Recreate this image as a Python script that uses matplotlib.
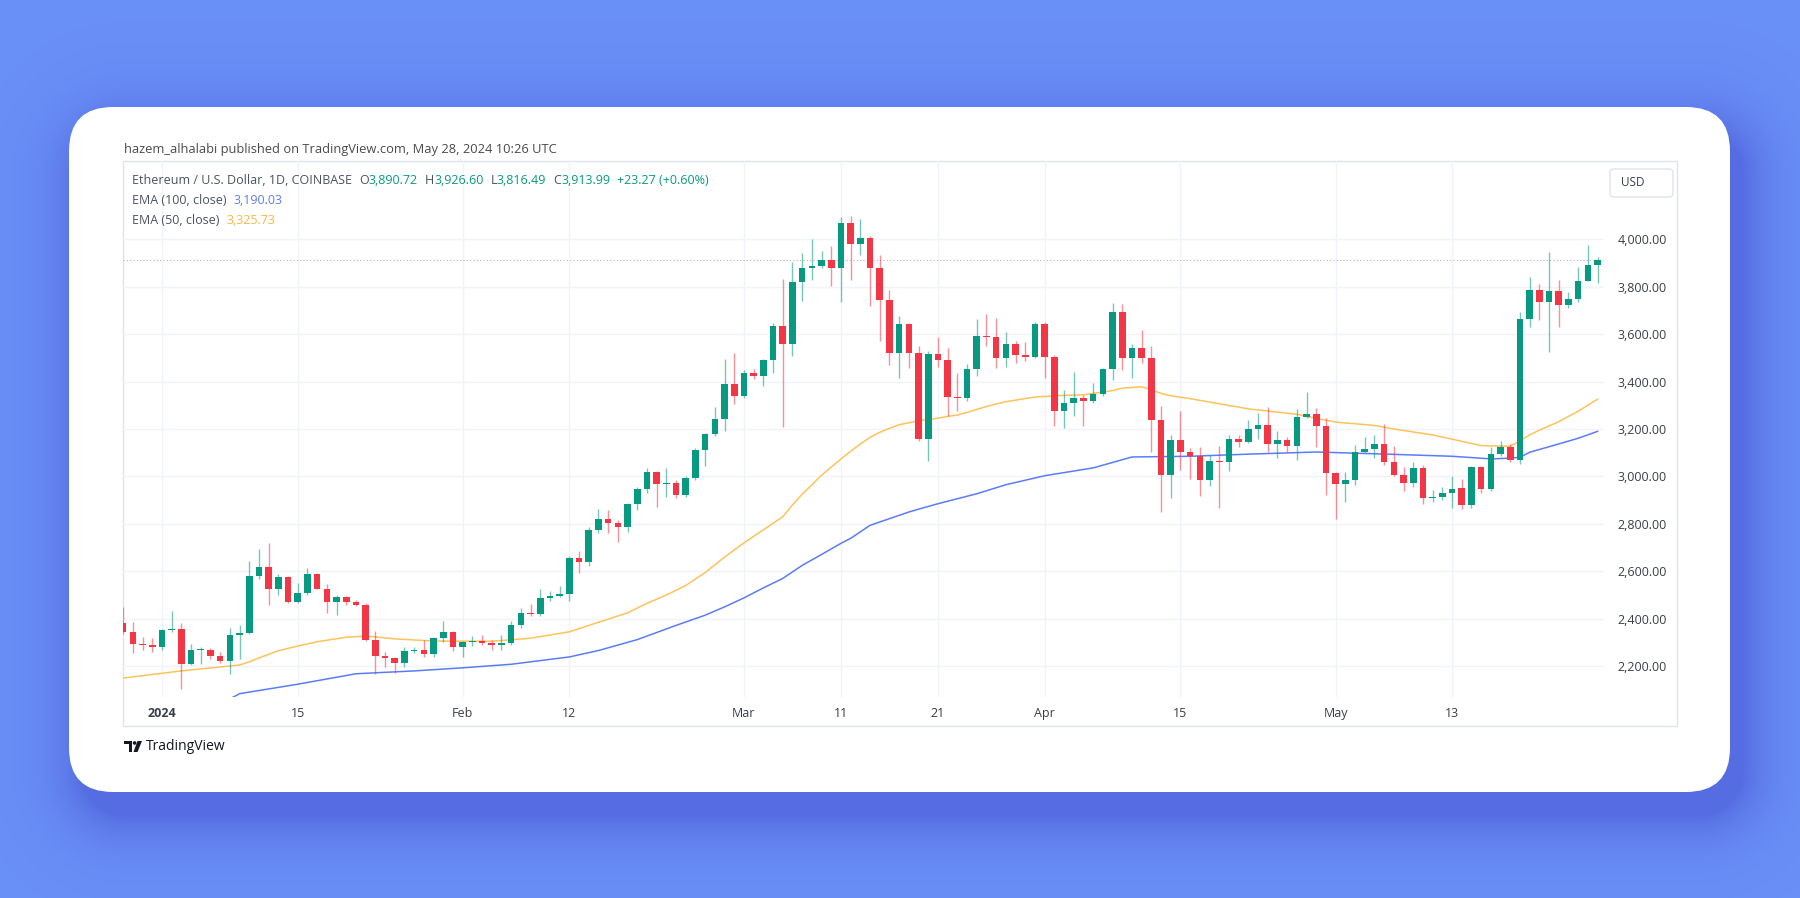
import numpy as np
import pandas as pd
import matplotlib
matplotlib.use("Agg")
import matplotlib.pyplot as plt
import matplotlib.dates as mdates
from matplotlib.patches import FancyBboxPatch, Rectangle, Circle, Polygon

W, H = 1800, 898

# ETH / USD daily candles (COINBASE), 28 Dec 2023 -> 28 May 2024
dates = pd.date_range("2023-12-28", "2024-05-28", freq="D")

opens = [2380, 2344, 2295, 2290,
         # Jan
         2280, 2352, 2358, 2208, 2267, 2270, 2241, 2222, 2330, 2341, 2582, 2618, 2524, 2578, 2470, 2509,
         2587, 2526, 2470, 2491, 2470, 2456, 2309, 2241, 2234, 2215, 2262, 2268, 2253, 2317, 2342,
         # Feb
         2280, 2302, 2306, 2298, 2290, 2298, 2372, 2423, 2418, 2486, 2497, 2504, 2658, 2641, 2775, 2822,
         2805, 2787, 2885, 2948, 3018, 2969, 2971, 2923, 2993, 3113, 3179, 3242, 3389,
         # Mar
         3340, 3438, 3424, 3490, 3634, 3557, 3820, 3878, 3889, 3913, 3878, 4067, 3979, 4007, 3878, 3743,
         3519, 3641, 3519, 3158, 3517, 3491, 3337, 3329, 3455, 3592, 3588, 3501, 3559, 3510, 3504,
         # Apr
         3643, 3503, 3278, 3309, 3330, 3318, 3349, 3452, 3692, 3501, 3543, 3501, 3236, 3008, 3155, 3103,
         3085, 2985, 3066, 3059, 3157, 3145, 3199, 3218, 3138, 3154, 3129, 3252, 3262, 3213,
         # May
         3014, 2968, 2985, 3103, 3117, 3136, 3062, 3007, 2973, 3035, 2910, 2913, 2930, 2951, 2881, 3038,
         2948, 3095, 3123, 3070, 3662, 3787, 3734, 3783, 3724, 3750, 3825, 3890.72]
highs = [2449, 2386, 2323, 2320,
         2355, 2432, 2383, 2295, 2280, 2275, 2260, 2362, 2372, 2643, 2692, 2720, 2590, 2582, 2550, 2615,
         2592, 2547, 2498, 2495, 2481, 2465, 2348, 2260, 2238, 2281, 2281, 2309, 2321, 2390, 2350,
         2307, 2327, 2330, 2310, 2332, 2390, 2446, 2462, 2525, 2518, 2536, 2665, 2686, 2785, 2864, 2858,
         2815, 2890, 2955, 3035, 3022, 3035, 2985, 3000, 3120, 3185, 3291, 3494, 3522,
         3450, 3455, 3495, 3645, 3834, 3906, 3941, 4000, 3950, 3973, 4092, 4098, 4085, 4012, 3934, 3785,
         3676, 3645, 3550, 3530, 3589, 3543, 3438, 3473, 3664, 3683, 3669, 3611, 3571, 3566, 3650,
         3650, 3510, 3365, 3442, 3344, 3393, 3456, 3730, 3726, 3560, 3618, 3550, 3299, 3176, 3278, 3120,
         3122, 3090, 3129, 3173, 3175, 3238, 3266, 3294, 3192, 3168, 3283, 3355, 3287, 3248,
         3020, 3017, 3131, 3168, 3173, 3220, 3130, 3039, 3060, 3050, 2944, 2955, 3000, 2990, 3046, 3046,
         3123, 3148, 3137, 3692, 3841, 3813, 3948, 3829, 3776, 3883, 3976, 3926.60]
lows = [2335, 2257, 2270, 2260,
        2268, 2342, 2102, 2203, 2208, 2232, 2215, 2168, 2229, 2335, 2568, 2459, 2498, 2468, 2466, 2501,
        2524, 2425, 2414, 2456, 2452, 2305, 2168, 2197, 2173, 2197, 2255, 2239, 2239, 2300, 2265,
        2239, 2285, 2290, 2267, 2270, 2290, 2360, 2410, 2410, 2475, 2490, 2476, 2592, 2623, 2760, 2760,
        2723, 2765, 2860, 2930, 2871, 2913, 2910, 2915, 2985, 3046, 3170, 3190, 3305,
        3330, 3410, 3380, 3435, 3207, 3508, 3738, 3830, 3880, 3801, 3734, 3830, 3934, 3717, 3571, 3470,
        3414, 3459, 3150, 3063, 3460, 3256, 3277, 3320, 3424, 3550, 3459, 3461, 3477, 3485, 3498,
        3414, 3211, 3204, 3253, 3211, 3310, 3340, 3407, 3449, 3414, 3477, 3102, 2851, 2909, 3026, 2991,
        2917, 2958, 2867, 3024, 3122, 3140, 3157, 3104, 3076, 3104, 3069, 3248, 3122, 2922,
        2821, 2894, 2964, 3098, 3078, 3049, 3000, 2937, 2955, 2885, 2892, 2900, 2868, 2862, 2867, 2930,
        2940, 3088, 3060, 3053, 3629, 3659, 3524, 3631, 3710, 3736, 3822, 3816.49]
closes = [2344, 2295, 2290, 2280,
          2352, 2358, 2208, 2267, 2270, 2241, 2222, 2330, 2341, 2582, 2618, 2524, 2578, 2470, 2509, 2587,
          2526, 2470, 2491, 2470, 2456, 2309, 2241, 2234, 2215, 2262, 2268, 2253, 2317, 2342, 2280,
          2302, 2306, 2298, 2288, 2298, 2372, 2423, 2418, 2486, 2497, 2504, 2658, 2641, 2775, 2822, 2805,
          2787, 2885, 2948, 3018, 2969, 2971, 2923, 2993, 3113, 3179, 3242, 3389, 3340,
          3438, 3424, 3490, 3634, 3557, 3820, 3878, 3889, 3913, 3878, 4067, 3979, 4007, 3878, 3743, 3519,
          3641, 3519, 3158, 3517, 3491, 3337, 3329, 3455, 3592, 3588, 3501, 3559, 3510, 3504, 3643,
          3503, 3278, 3309, 3330, 3318, 3349, 3452, 3692, 3501, 3543, 3501, 3236, 3008, 3155, 3103, 3085,
          2985, 3066, 3059, 3157, 3145, 3199, 3218, 3138, 3154, 3129, 3252, 3262, 3213, 3014,
          2968, 2985, 3103, 3117, 3136, 3062, 3007, 2973, 3035, 2910, 2913, 2930, 2948, 2881, 3038, 2948,
          3095, 3123, 3070, 3662, 3787, 3734, 3783, 3724, 3750, 3825, 3890.72, 3913.99]

# EMA lines
ema50_dates = ["2023-12-28", "2024-01-03", "2024-01-09", "2024-01-10", "2024-01-11", "2024-01-12",
               "2024-01-13", "2024-01-15", "2024-01-17", "2024-01-20", "2024-01-22", "2024-01-25",
               "2024-01-29", "2024-02-04", "2024-02-08", "2024-02-12", "2024-02-15", "2024-02-18",
               "2024-02-20", "2024-02-22", "2024-02-24", "2024-02-26", "2024-02-28", "2024-03-01",
               "2024-03-03", "2024-03-05", "2024-03-06", "2024-03-07", "2024-03-09", "2024-03-11",
               "2024-03-12", "2024-03-13", "2024-03-14", "2024-03-15", "2024-03-16", "2024-03-17",
               "2024-03-19", "2024-03-20", "2024-03-22", "2024-03-23", "2024-03-24", "2024-03-26",
               "2024-03-28", "2024-03-31", "2024-04-03", "2024-04-05", "2024-04-08", "2024-04-09",
               "2024-04-11", "2024-04-12", "2024-04-13", "2024-04-14", "2024-04-16", "2024-04-22",
               "2024-04-27", "2024-05-01", "2024-05-05", "2024-05-07", "2024-05-11", "2024-05-16",
               "2024-05-19", "2024-05-20", "2024-05-21", "2024-05-22", "2024-05-24", "2024-05-26",
               "2024-05-28"]
ema50_vals = [2150, 2180, 2205, 2218, 2235, 2250,
              2265, 2285, 2303, 2322, 2327, 2315,
              2306, 2305, 2318, 2345, 2385, 2425,
              2465, 2500, 2540, 2595, 2660, 2720,
              2775, 2830, 2880, 2925, 3005, 3074,
              3106, 3137, 3165, 3186, 3203, 3218,
              3235, 3239, 3253, 3259, 3270, 3295,
              3315, 3335, 3342, 3344, 3362, 3372,
              3378, 3365, 3350, 3340, 3328, 3285,
              3262, 3229, 3215, 3200, 3175, 3130,
              3127, 3150, 3175, 3195, 3231, 3275,
              3325.73]
ema100_dates = ["2024-01-08", "2024-01-09", "2024-01-15", "2024-01-21", "2024-01-27", "2024-02-01",
                "2024-02-06", "2024-02-12", "2024-02-15", "2024-02-19", "2024-02-23", "2024-02-26",
                "2024-02-28", "2024-03-01", "2024-03-03", "2024-03-05", "2024-03-07", "2024-03-09",
                "2024-03-11", "2024-03-12", "2024-03-14", "2024-03-16", "2024-03-18", "2024-03-19",
                "2024-03-21", "2024-03-23", "2024-03-25", "2024-03-28", "2024-04-01", "2024-04-06",
                "2024-04-10", "2024-04-16", "2024-04-22", "2024-04-29", "2024-05-03", "2024-05-07",
                "2024-05-13", "2024-05-17", "2024-05-19", "2024-05-20", "2024-05-21", "2024-05-24",
                "2024-05-26", "2024-05-28"]
ema100_vals = [2062, 2084, 2124, 2168, 2180, 2193,
               2208, 2239, 2266, 2312, 2372, 2415,
               2450, 2488, 2530, 2570, 2625, 2671,
               2718, 2739, 2794, 2822, 2850, 2862,
               2885, 2906, 2927, 2965, 3003, 3036,
               3082, 3085, 3094, 3103, 3098, 3093,
               3085, 3074, 3077, 3081, 3102, 3137,
               3161, 3190.03]

tick_dates = ["2024-01-01", "2024-01-15", "2024-02-01", "2024-02-12", "2024-03-01", "2024-03-11",
              "2024-03-21", "2024-04-01", "2024-04-15", "2024-05-01", "2024-05-13"]
tick_labels = ["2024", "15", "Feb", "12", "Mar", "11", "21", "Apr", "15", "May", "13"]
price_ticks = [2200, 2400, 2600, 2800, 3000, 3200, 3400, 3600, 3800, 4000]

UP = "#089981"
DOWN = "#f23645"
BLUE = "#5b7cf7"
ORANGE = "#fcc35a"
GRID = "#f0f3fa"
FONT = "Open Sans"

fig = plt.figure(figsize=(18, 8.98), dpi=100)

# background with soft shadow under the card
bg = fig.add_axes([0, 0, 1, 1], zorder=0)
bg.set_xlim(0, W)
bg.set_ylim(H, 0)
bg.axis("off")

card = (69, 107, 1730, 792, 44)


def rr_dist(xx, yy, x0, y0, x1, y1, r):
    cx, cy = (x0 + x1) / 2, (y0 + y1) / 2
    qx = np.abs(xx - cx) - ((x1 - x0) / 2 - r)
    qy = np.abs(yy - cy) - ((y1 - y0) / 2 - r)
    out = np.hypot(np.maximum(qx, 0), np.maximum(qy, 0))
    return out + np.minimum(np.maximum(qx, qy), 0) - r


yy, xx = np.mgrid[0:H, 0:W]
base = np.array([106, 145, 247]) / 255
shade = np.array([72, 84, 212]) / 255
d = rr_dist(xx, yy, card[0] + 12, card[1] + 22, card[2] + 12, card[3] + 22, card[4])
a = 0.6 * np.exp(-np.maximum(d, 0) / 30.0)
img = base * (1 - a[..., None]) + shade * a[..., None]
bg.imshow(img, extent=(0, W, H, 0), interpolation="bilinear", zorder=0)

bg.add_patch(FancyBboxPatch((card[0], card[1]), card[2] - card[0], card[3] - card[1],
                            boxstyle="round,pad=0,rounding_size=44", fc="white", ec="none", zorder=1))
# chart frame
bg.add_patch(Rectangle((123, 161), 1677 - 123, 726 - 161, fc="white", ec="#e0e3eb", lw=1, zorder=2))

# price chart
L, R, T, B = 123, 1604, 161, 697
ax = fig.add_axes([L / W, 1 - B / H, (R - L) / W, (B - T) / H], zorder=2)
ax.patch.set_alpha(0)

x = mdates.date2num(dates)
o, h, l, c = (np.array(v, dtype=float) for v in (opens, highs, lows, closes))
up = c >= o
cols = np.where(up, UP, DOWN)

ax.vlines(x, l, h, colors=cols, lw=1.0, alpha=0.55, zorder=3)
ax.bar(x, np.maximum(np.abs(c - o), 4), bottom=np.minimum(o, c), width=0.68,
       color=cols, lw=0, zorder=4)

ax.plot(mdates.date2num(pd.to_datetime(ema50_dates)), ema50_vals, color=ORANGE, lw=1.1, zorder=2)
ax.plot(mdates.date2num(pd.to_datetime(ema100_dates)), ema100_vals, color=BLUE, lw=1.1, zorder=2)

ax.axhline(closes[-1], color="#b2b5be", lw=0.8, ls=(0, (1, 2)), zorder=1)

jan1 = mdates.date2num(pd.Timestamp("2024-01-01"))
ax.set_xlim(jan1 - 4.02, jan1 + 148.66)
ax.set_ylim(2070, 4330)

ax.set_xticks(mdates.date2num(pd.to_datetime(tick_dates)))
ax.set_xticklabels(tick_labels, fontsize=9, color="#3a3e48", family=FONT)
ax.get_xticklabels()[0].set_fontweight("bold")
ax.tick_params(axis="x", length=0, pad=7)

ax.yaxis.tick_right()
ax.set_yticks(price_ticks)
ax.set_yticklabels([f"{p:,.2f}" for p in price_ticks], fontsize=9, color="#3a3e48", family=FONT)
ax.tick_params(axis="y", length=0, pad=10)

ax.grid(True, color=GRID, lw=1, zorder=0)
ax.set_axisbelow(True)
for s in ax.spines.values():
    s.set_visible(False)

# overlay for texts
ov = fig.add_axes([0, 0, 1, 1], zorder=5)
ov.set_xlim(0, W)
ov.set_ylim(H, 0)
ov.axis("off")
ov.patch.set_alpha(0)

ov.text(124, 149, "hazem_alhalabi published on TradingView.com, May 28, 2024 10:26 UTC",
        fontsize=9.3, color="#4a4a4a", va="center", ha="left", family=FONT)

LG = "#4c525e"
FS = 9.0


def put(prev, s, color, gap=0.0):
    return ov.annotate(s, xy=(1, 0), xycoords=prev, xytext=(gap, 0), textcoords="offset points",
                       ha="left", va="bottom", fontsize=FS, color=color, family=FONT)


t = ov.text(132, 180, "Ethereum / U.S. Dollar, 1D, COINBASE", fontsize=FS, color=LG,
            va="center", ha="left", family=FONT)
chg = closes[-1] - closes[-2]
for lab, val in (("O", opens[-1]), ("H", highs[-1]), ("L", lows[-1]), ("C", closes[-1])):
    t = put(t, lab, LG, 5)
    t = put(t, f"{val:,.2f}", UP)
put(t, f"+{chg:,.2f} (+{chg / closes[-2] * 100:.2f}%)", UP, 5)

t = ov.text(132, 200, "EMA (100, close)", fontsize=FS, color=LG, va="center", ha="left", family=FONT)
put(t, f"{ema100_vals[-1]:,.2f}", BLUE, 5)
t = ov.text(132, 220, "EMA (50, close)", fontsize=FS, color=LG, va="center", ha="left", family=FONT)
put(t, f"{ema50_vals[-1]:,.2f}", "#f7b64a", 5)

# currency button
ov.add_patch(FancyBboxPatch((1610, 169), 63, 28, boxstyle="round,pad=0,rounding_size=4",
                            fc="white", ec="#e0e3eb", lw=1))
ov.text(1621, 183, "USD", fontsize=8.5, color="#3a3e48", va="center", ha="left", family=FONT)

# TradingView logo + wordmark
ov.add_patch(Rectangle((124, 741), 8, 3.2, fc="#131722", ec="none"))
ov.add_patch(Rectangle((128.5, 741), 3.5, 11, fc="#131722", ec="none"))
ov.add_patch(Circle((134.6, 743), 1.8, fc="#131722", ec="none"))
ov.add_patch(Polygon([(137.5, 741), (142, 741), (137.5, 752), (133.5, 752)], closed=True,
                     fc="#131722", ec="none"))
ov.text(146, 746.5, "TradingView", fontsize=10, color="#131722", va="center", ha="left", family=FONT)

fig.savefig("out.png", dpi=100)
